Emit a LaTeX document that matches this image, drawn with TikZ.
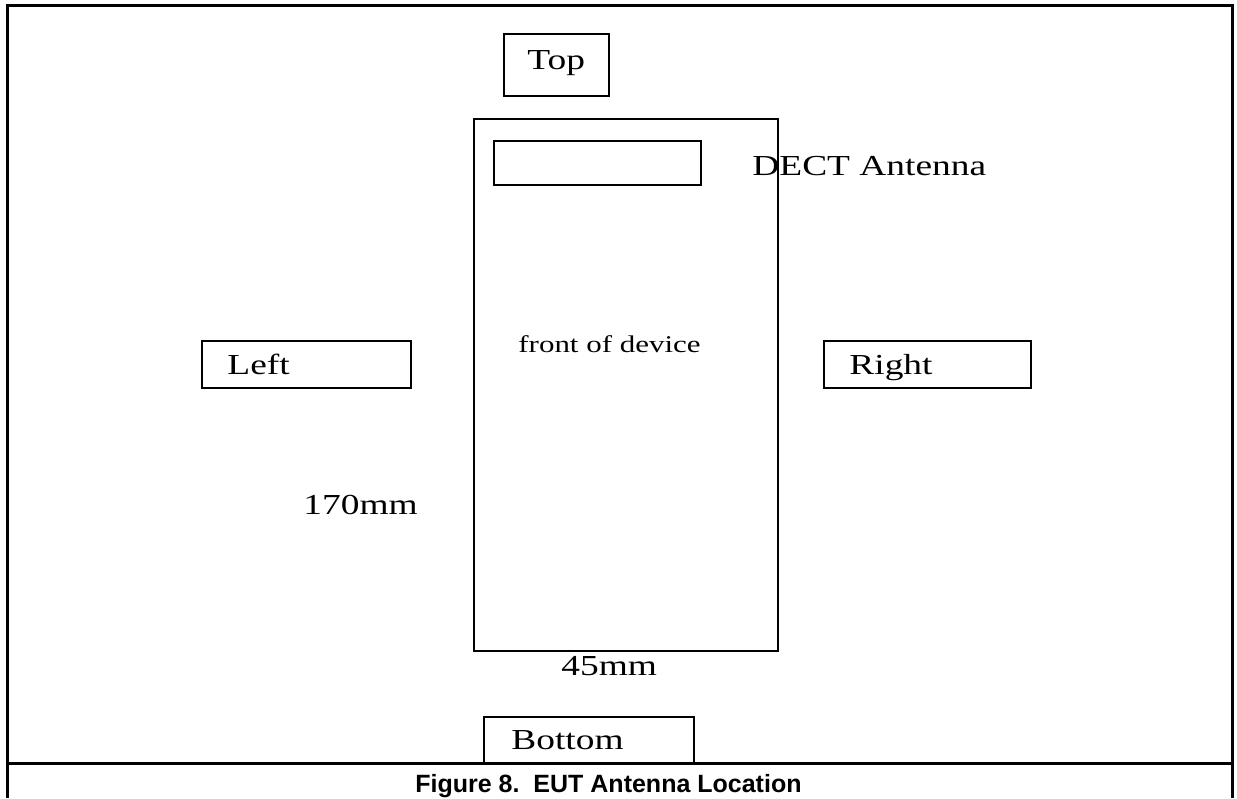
\documentclass[tikz,border=0pt]{standalone}
\usepackage{fontspec}
\setmainfont{Liberation Serif}[FakeStretch=1.29]
\newfontfamily\capfont{Liberation Sans}
\usetikzlibrary{positioning}
\tikzset{
  box/.style={draw,line width=0.75pt,inner sep=0pt},
  lbl/.style={font=\fontsize{14.5}{17}\selectfont,inner sep=0pt},
  frame/.style={line width=1.5pt,line join=miter}
}

\begin{document}
\begin{tikzpicture}[x=0.5pt,y=-0.5pt]
  \useasboundingbox (0,0) rectangle (1237,798);
  % outer frame and caption rule
  \draw[frame] (7.5,798) -- (7.5,5.5) -- (1232.5,5.5) -- (1232.5,798);
  \draw[frame] (7.5,763.5) -- (1232.5,763.5);

  % device and antenna
  \node[box,minimum width=152pt,minimum height=266pt] (device) at (626,385) {};
  \node[box,minimum width=103.5pt,minimum height=22pt] (antenna) at (597.5,163) {};
  \node[lbl,anchor=base west] (antennatxt) at (752,175) {DECT Antenna};
  \node[lbl,font=\fontsize{12}{14}\selectfont,anchor=base west] (fronttxt) at (518,352) {front of device};
  \node[lbl,anchor=base west] (heighttxt) at (303,514) {170mm};
  \node[lbl,anchor=base west] (widthtxt) at (561,675) {45mm};

  % side boxes
  \node[box,minimum width=52.5pt,minimum height=31pt] (topbox) at (556.5,65) {};
  \node[lbl,anchor=base west] (toptxt) at (527,69) {Top};
  \node[box,minimum width=104.5pt,minimum height=23.5pt] (leftbox) at (306.5,364.5) {};
  \node[lbl,anchor=base west] (lefttxt) at (227,374) {Left};
  \node[box,minimum width=103.5pt,minimum height=23.5pt] (rightbox) at (927.5,364.5) {};
  \node[lbl,anchor=base west] (righttxt) at (849,374) {Right};
  \node[box,minimum width=105pt,minimum height=23pt] (bottombox) at (589,740) {};
  \node[lbl,anchor=base west] (bottomtxt) at (511,749) {Bottom};

  % caption
  \node[font=\capfont\bfseries\fontsize{12.5}{15}\selectfont,inner sep=0pt,anchor=base west] (caption) at (415,792) {Figure 8.\ \ EUT Antenna Location};
\end{tikzpicture}
\end{document}
